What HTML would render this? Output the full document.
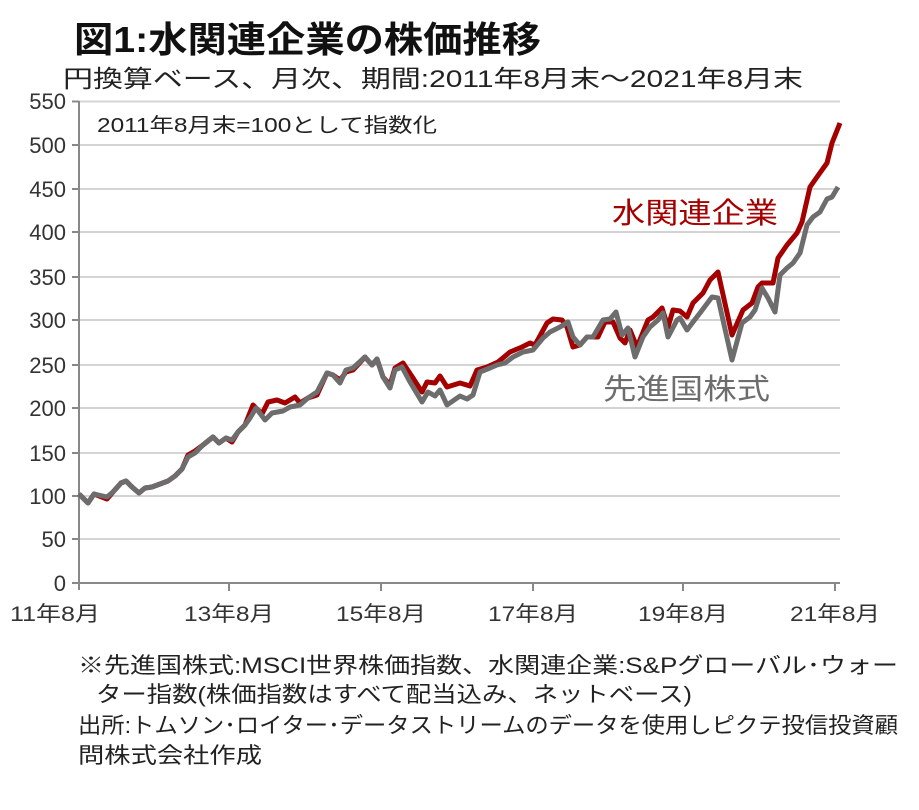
<!DOCTYPE html>
<html><head><meta charset="utf-8"><style>
body{margin:0;background:#fff;width:919px;height:810px;overflow:hidden}
svg{display:block}
text{font-family:"Liberation Sans","Noto Sans CJK JP",sans-serif}
</style></head><body>
<svg width="919" height="810" viewBox="0 0 919 810">
<text x="74" y="52" font-size="36" font-weight="bold" fill="#111" textLength="467" lengthAdjust="spacingAndGlyphs">図1:水関連企業の株価推移</text>
<text x="63" y="87" font-size="24" fill="#222" textLength="740" lengthAdjust="spacingAndGlyphs">円換算ベース、月次、期間:2011年8月末～2021年8月末</text>
<g stroke="#d4d4d4" stroke-width="2">
<line x1="79" x2="840" y1="101.5" y2="101.5"/><line x1="79" x2="840" y1="145" y2="145"/>
<line x1="79" x2="840" y1="189" y2="189"/><line x1="79" x2="840" y1="232" y2="232"/>
<line x1="79" x2="840" y1="277" y2="277"/><line x1="79" x2="840" y1="320" y2="320"/>
<line x1="79" x2="840" y1="365" y2="365"/><line x1="79" x2="840" y1="408" y2="408"/>
<line x1="79" x2="840" y1="453" y2="453"/><line x1="79" x2="840" y1="496" y2="496"/>
<line x1="79" x2="840" y1="539" y2="539"/>
</g>
<g stroke="#888" stroke-width="2">
<line x1="79" y1="101" x2="79" y2="590"/><line x1="72" y1="583" x2="840" y2="583"/>
<line x1="72" x2="79" y1="101.5" y2="101.5"/><line x1="72" x2="79" y1="145" y2="145"/>
<line x1="72" x2="79" y1="189" y2="189"/><line x1="72" x2="79" y1="232" y2="232"/>
<line x1="72" x2="79" y1="277" y2="277"/><line x1="72" x2="79" y1="320" y2="320"/>
<line x1="72" x2="79" y1="365" y2="365"/><line x1="72" x2="79" y1="408" y2="408"/>
<line x1="72" x2="79" y1="453" y2="453"/><line x1="72" x2="79" y1="496" y2="496"/>
<line x1="72" x2="79" y1="539" y2="539"/>
<line x1="229" x2="229" y1="583" y2="591"/><line x1="381" x2="381" y1="583" y2="591"/>
<line x1="533" x2="533" y1="583" y2="591"/><line x1="683" x2="683" y1="583" y2="591"/>
<line x1="835" x2="835" y1="583" y2="591"/>
</g>
<g font-size="22" fill="#333" text-anchor="end">
<text x="66" y="109">550</text><text x="66" y="153">500</text><text x="66" y="197">450</text>
<text x="66" y="240">400</text><text x="66" y="285">350</text><text x="66" y="328">300</text>
<text x="66" y="373">250</text><text x="66" y="416">200</text><text x="66" y="461">150</text>
<text x="66" y="504">100</text><text x="66" y="547">50</text><text x="66" y="591">0</text>
</g>
<g font-size="21" fill="#333">
<text x="10" y="621" textLength="90" lengthAdjust="spacingAndGlyphs">11年8月</text>
<text x="184" y="621" textLength="90" lengthAdjust="spacingAndGlyphs">13年8月</text>
<text x="336" y="621" textLength="90" lengthAdjust="spacingAndGlyphs">15年8月</text>
<text x="488" y="621" textLength="90" lengthAdjust="spacingAndGlyphs">17年8月</text>
<text x="638" y="621" textLength="90" lengthAdjust="spacingAndGlyphs">19年8月</text>
<text x="790" y="621" textLength="90" lengthAdjust="spacingAndGlyphs">21年8月</text>
</g>
<text x="97" y="132" font-size="20" fill="#222" textLength="340" lengthAdjust="spacingAndGlyphs">2011年8月末=100として指数化</text>
<polyline fill="none" stroke="#a50000" stroke-width="5" stroke-linejoin="round" points="79,494 88,503 94,494 107,499 113,492 121,483 126,481 132,487 139,493 145,488 152,487 160,484 168,481 175,476 182,469 188,455 195,451 203,445 213,437 219,443 226,438 232,442 238,432 245,425 253,405 262,414 268,402 277,400 285,403 295,397 300,403 308,398 317,395 327,373 333,375 340,380 346,372 353,370 365,357 372,365 377,359 383,377 390,385 395,368 403,363 413,378 422,392 427,382 435,383 440,376 447,387 460,383 470,386 477,370 487,367 498,362 510,352 522,347 530,343 535,345 547,323 553,319 562,320 567,327 573,347 580,345 587,337 598,337 605,322 613,322 620,338 625,343 630,330 637,347 648,320 653,317 662,308 668,327 673,310 680,311 687,317 693,303 703,293 710,280 718,272 732,335 743,310 752,303 758,287 762,283 773,283 778,258 787,245 797,233 802,222 810,187 817,177 827,163 832,143 840,123"/>
<polyline fill="none" stroke="#6d6d6d" stroke-width="5" stroke-linejoin="round" points="79,494 88,503 94,494 107,497 113,492 121,483 126,481 132,487 139,493 145,488 152,487 160,484 168,481 175,476 182,469 188,457 195,453 203,445 213,437 219,443 226,438 232,440 238,432 245,425 250,418 256,408 265,420 272,413 283,411 290,407 300,405 308,398 317,392 327,373 333,375 340,383 346,370 353,368 365,357 372,365 377,359 383,377 390,388 395,370 402,367 410,382 422,402 428,392 435,396 440,390 447,405 460,396 467,399 473,395 480,372 490,368 497,365 505,363 513,357 523,352 533,350 543,338 550,332 560,327 568,322 573,337 580,345 587,337 593,337 603,320 610,319 616,312 622,335 628,328 635,357 643,337 650,327 658,320 663,313 668,337 677,320 680,318 687,330 693,322 700,313 712,297 718,298 732,360 742,323 750,317 755,310 762,288 768,298 775,312 780,275 787,268 793,263 800,253 807,225 813,217 820,212 827,199 832,197 838,187"/>
<text x="612" y="223" font-size="29" fill="#a50000" textLength="166" lengthAdjust="spacingAndGlyphs">水関連企業</text>
<text x="603" y="399" font-size="29" fill="#6d6d6d" textLength="167" lengthAdjust="spacingAndGlyphs">先進国株式</text>
<g font-size="22" fill="#222">
<text x="78" y="673" textLength="820" lengthAdjust="spacingAndGlyphs">※先進国株式:MSCI世界株価指数、水関連企業:S&amp;Pグローバル･ウォー</text>
<text x="96" y="702" textLength="596" lengthAdjust="spacingAndGlyphs">ター指数(株価指数はすべて配当込み、ネットベース)</text>
<text x="78" y="733" textLength="820" lengthAdjust="spacingAndGlyphs">出所:トムソン･ロイター･データストリームのデータを使用しピクテ投信投資顧</text>
<text x="78" y="763" textLength="184" lengthAdjust="spacingAndGlyphs">問株式会社作成</text>
</g>
</svg>
</body></html>
